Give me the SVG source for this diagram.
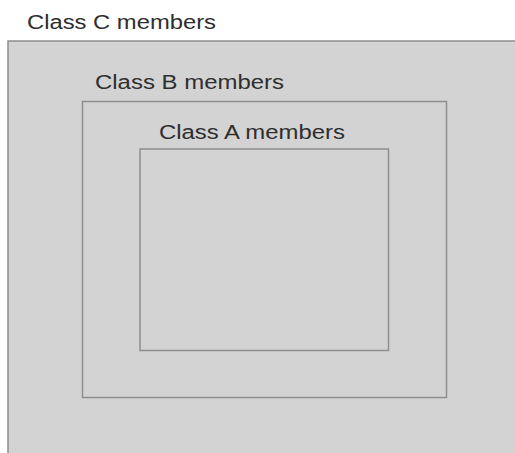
<svg xmlns="http://www.w3.org/2000/svg" width="515" height="453" viewBox="0 0 515 453">
<style>
.box{fill:#d3d3d3;stroke:#8e8e8e;stroke-width:1.5}
.lbl{font-family:"Liberation Sans",Arial,sans-serif;font-size:20px;fill:#2e2e2e}
</style>
<rect width="515" height="453" fill="#ffffff"/>
<g id="classC">
<rect class="box" x="8" y="41" width="520" height="430"/>
<text class="lbl" x="27" y="28.5" textLength="189" lengthAdjust="spacingAndGlyphs">Class C members</text>
</g>
<g id="classB">
<rect class="box" x="82.5" y="101.5" width="364" height="296"/>
<text class="lbl" x="95" y="89" textLength="189" lengthAdjust="spacingAndGlyphs">Class B members</text>
</g>
<g id="classA">
<rect class="box" x="140" y="149" width="248.5" height="201.5"/>
<text class="lbl" x="159" y="139" textLength="186" lengthAdjust="spacingAndGlyphs">Class A members</text>
</g>
<g id="connectors"/>
</svg>
